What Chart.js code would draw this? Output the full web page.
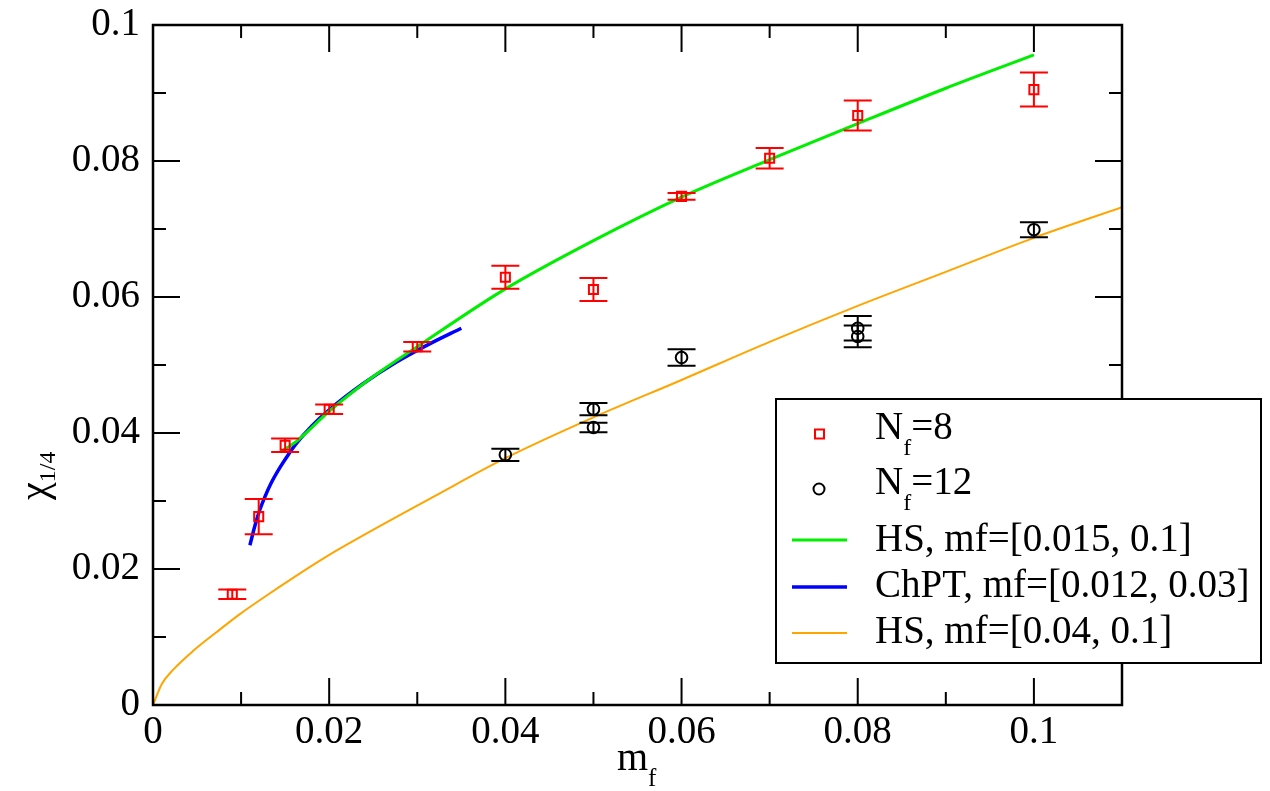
<!DOCTYPE html>
<html>
<head>
<meta charset="utf-8">
<script src="https://cdn.jsdelivr.net/npm/chart.js@4.4.0/dist/chart.umd.min.js"></script>
<style>
  html, body { margin: 0; padding: 0; background: #fff; }
  canvas { display: block; }
</style>
</head>
<body>
<canvas id="chart" width="1270" height="791"></canvas>
<script>
"use strict";

// data ------------------------------------
const nf8Mass = [0.009, 0.012, 0.015, 0.02, 0.03, 0.04, 0.05, 0.06, 0.07, 0.08, 0.1];
const nf8Chi = [0.0163, 0.0277, 0.0382, 0.0435, 0.0527, 0.0629, 0.0611, 0.0748, 0.0804, 0.0867, 0.0905];
const nf8Err = [0.0007, 0.0026, 0.001, 0.0007, 0.0007, 0.0017, 0.0017, 0.0005, 0.0015, 0.0022, 0.0025];

const nf12Mass = [0.04, 0.05, 0.05, 0.06, 0.08, 0.08, 0.1];
const nf12Chi = [0.0368, 0.0435, 0.0408, 0.0511, 0.0554, 0.0542, 0.0699];
const nf12Err = [0.0009, 0.0009, 0.0007, 0.0012, 0.0018, 0.0016, 0.0011];

// fit curves
const hs8Mass = [0.0145, 0.0165, 0.02, 0.025, 0.03, 0.04, 0.05, 0.06, 0.07, 0.08, 0.09, 0.1];
const hs8Chi = [0.0372, 0.039, 0.0432, 0.0483, 0.0527, 0.0612, 0.0683, 0.0747, 0.0802, 0.0855, 0.0907, 0.0956];

const chptMass = [0.011, 0.0116, 0.0121, 0.0127, 0.0134, 0.0144, 0.0153, 0.0163, 0.018, 0.02, 0.0238, 0.0276, 0.0314, 0.035];
const chptChi = [0.0235, 0.0265, 0.0286, 0.0306, 0.0326, 0.0349, 0.0367, 0.0385, 0.041, 0.0434, 0.0472, 0.0504, 0.0531, 0.0554];

const hs12Mass = [0, 0.001, 0.0023, 0.0046, 0.0072, 0.0099, 0.0129, 0.0159, 0.0189, 0.0212, 0.0325, 0.04, 0.05, 0.06, 0.07, 0.08, 0.09, 0.1, 0.11];
const hs12Chi = [0, 0.0031, 0.0052, 0.008, 0.0107, 0.0134, 0.0161, 0.0187, 0.0212, 0.023, 0.0311, 0.0363, 0.0423, 0.0478, 0.0534, 0.0587, 0.0637, 0.0687, 0.0732];

// ticks
const xMajorTicks = [0, 0.02, 0.04, 0.06, 0.08, 0.1];
const xMinorTicks = [0.01, 0.03, 0.05, 0.07, 0.09, 0.11];
const yMajorTicks = [0, 0.02, 0.04, 0.06, 0.08, 0.1];
const yMinorTicks = [0.01, 0.03, 0.05, 0.07, 0.09];

const legendLabels = [
  ["N", "f", "=8"],
  ["N", "f", "=12"],
  ["HS, mf=[0.015, 0.1]"],
  ["ChPT, mf=[0.012, 0.03]"],
  ["HS, mf=[0.04, 0.1]"],
];

const FONT = "'Liberation Serif', 'Times New Roman', serif";

function zip(xs, ys) {
  return xs.map((x, i) => ({ x: x, y: ys[i] }));
}

// error bars----------
const errorBars = {
  id: "errorBars",
  afterDatasetsDraw(chart) {
    const ctx = chart.ctx;
    const xs = chart.scales.x;
    const ys = chart.scales.y;
    chart.data.datasets.forEach((ds) => {
      if (!ds.errors) return;
      ctx.save();
      ctx.strokeStyle = ds.borderColor;
      ctx.lineWidth = 2;
      ds.data.forEach((p, i) => {
        const px = xs.getPixelForValue(p.x);
        const top = ys.getPixelForValue(p.y + ds.errors[i]);
        const bot = ys.getPixelForValue(p.y - ds.errors[i]);
        ctx.beginPath();
        ctx.moveTo(px, top);
        ctx.lineTo(px, bot);
        ctx.moveTo(px - 14, top);
        ctx.lineTo(px + 14, top);
        ctx.moveTo(px - 14, bot);
        ctx.lineTo(px + 14, bot);
        ctx.stroke();
      });
      ctx.restore();
    });
  },
};

// frame, ticks, titles, legend----------
function drawSub(ctx, x, y, parts, size) {
  ctx.font = size + "px " + FONT;
  ctx.fillText(parts[0], x, y);
  let w = ctx.measureText(parts[0]).width;
  if (parts.length > 1) {
    ctx.font = Math.round(size * 0.62) + "px " + FONT;
    ctx.fillText(parts[1], x + w, y + size * 0.4);
    w += ctx.measureText(parts[1]).width;
    ctx.font = size + "px " + FONT;
    ctx.fillText(parts[2], x + w, y);
  }
}

const decorations = {
  id: "decorations",
  afterDraw(chart) {
    const ctx = chart.ctx;
    const a = chart.chartArea;
    const xs = chart.scales.x;
    const ys = chart.scales.y;
    ctx.save();
    ctx.strokeStyle = "#000";
    ctx.lineWidth = 2;
    ctx.beginPath();
    const tick = (vals, len, horizontal) => {
      vals.forEach((v) => {
        if (horizontal) {
          const px = xs.getPixelForValue(v);
          ctx.moveTo(px, a.bottom);
          ctx.lineTo(px, a.bottom - len);
          ctx.moveTo(px, a.top);
          ctx.lineTo(px, a.top + len);
        } else {
          const py = ys.getPixelForValue(v);
          ctx.moveTo(a.left, py);
          ctx.lineTo(a.left + len, py);
          ctx.moveTo(a.right, py);
          ctx.lineTo(a.right - len, py);
        }
      });
    };
    tick(xMajorTicks, 27, true);
    tick(xMinorTicks, 13, true);
    tick(yMajorTicks, 27, false);
    tick(yMinorTicks, 13, false);
    ctx.stroke();
    ctx.lineWidth = 2.5;
    ctx.strokeRect(a.left, a.top, a.right - a.left, a.bottom - a.top);

    // axis titles
    ctx.fillStyle = "#000";
    ctx.textBaseline = "alphabetic";
    ctx.textAlign = "left";
    drawSub(ctx, 617, 770, ["m", "f", ""], 40);
    ctx.save();
    ctx.translate(47, 500);
    ctx.rotate(-Math.PI / 2);
    ctx.font = "40px " + FONT;
    ctx.fillText("\u03c7", 0, 0);
    const cw = ctx.measureText("\u03c7").width;
    ctx.font = "24px " + FONT;
    ctx.fillText("1/4", cw, 8);
    ctx.restore();

    // legend box
    ctx.fillStyle = "#fff";
    ctx.fillRect(776, 399, 485, 264);
    ctx.lineWidth = 2;
    ctx.strokeRect(776, 399, 485, 264);
    const ds = chart.data.datasets;
    const baselines = [439, 494, 551, 597, 643];
    const marks = [434, 489, 540, 587, 633];
    ctx.fillStyle = "#000";
    legendLabels.forEach((parts, i) => {
      const d = ds[i];
      ctx.strokeStyle = d.borderColor;
      if (i === 0) {
        ctx.lineWidth = 2;
        ctx.strokeRect(815, marks[i] - 4.5, 9, 9);
      } else if (i === 1) {
        ctx.lineWidth = 2;
        ctx.beginPath();
        ctx.arc(819, marks[i], 5.5, 0, Math.PI * 2);
        ctx.stroke();
      } else {
        ctx.lineWidth = d.borderWidth;
        ctx.beginPath();
        ctx.moveTo(792, marks[i]);
        ctx.lineTo(847, marks[i]);
        ctx.stroke();
      }
      ctx.fillStyle = "#000";
      drawSub(ctx, 875, baselines[i], parts, 39);
    });
    ctx.restore();
  },
};

const tickFont = { family: FONT, size: 39 };
const fmt = (v) => String(+v.toFixed(3));

const ctx = document.getElementById("chart").getContext("2d");
const chart = new Chart(ctx, {
  type: "scatter",
  data: {
    datasets: [
      {
        label: "Nf=8",
        data: zip(nf8Mass, nf8Chi),
        errors: nf8Err,
        borderColor: "#ff0000",
        backgroundColor: "rgba(0,0,0,0)",
        pointStyle: "rect",
        pointRadius: 6.4,
        borderWidth: 2,
        showLine: false,
      },
      {
        label: "Nf=12",
        data: zip(nf12Mass, nf12Chi),
        errors: nf12Err,
        borderColor: "#000000",
        backgroundColor: "rgba(0,0,0,0)",
        pointStyle: "circle",
        pointRadius: 5.8,
        borderWidth: 2,
        showLine: false,
      },
      {
        label: "HS, mf=[0.015, 0.1]",
        data: zip(hs8Mass, hs8Chi),
        borderColor: "#00ee00",
        borderWidth: 3,
        pointRadius: 0,
        showLine: true,
        cubicInterpolationMode: "monotone",
      },
      {
        label: "ChPT, mf=[0.012, 0.03]",
        data: zip(chptMass, chptChi),
        borderColor: "#0000ff",
        borderWidth: 3.5,
        pointRadius: 0,
        showLine: true,
        cubicInterpolationMode: "monotone",
      },
      {
        label: "HS, mf=[0.04, 0.1]",
        data: zip(hs12Mass, hs12Chi),
        borderColor: "#ffa500",
        borderWidth: 2,
        pointRadius: 0,
        showLine: true,
        cubicInterpolationMode: "monotone",
      },
    ],
  },
  options: {
    responsive: false,
    animation: false,
    devicePixelRatio: 1,
    layout: { padding: { top: 25, right: 148, left: 0, bottom: 0 } },
    plugins: { legend: { display: false }, tooltip: { enabled: false } },
    scales: {
      x: {
        type: "linear",
        min: 0,
        max: 0.11,
        grid: { display: false, drawTicks: false },
        border: { display: false },
        ticks: { stepSize: 0.02, includeBounds: false, font: tickFont, color: "#000", padding: 4, callback: fmt, maxRotation: 0, autoSkip: false },
        afterFit: (s) => { s.height = 86; s.paddingLeft = 0; s.paddingRight = 0; },
      },
      y: {
        min: 0,
        max: 0.1,
        grid: { display: false, drawTicks: false },
        border: { display: false },
        ticks: { stepSize: 0.02, font: tickFont, color: "#000", padding: 13, callback: fmt, autoSkip: false },
        afterFit: (s) => { s.width = 153; s.paddingTop = 0; s.paddingBottom = 0; },
      },
    },
  },
  plugins: [errorBars, decorations],
});
</script>
</body>
</html>
